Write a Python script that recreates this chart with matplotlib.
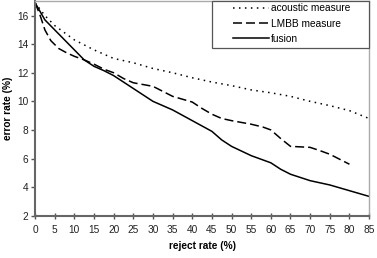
import matplotlib
matplotlib.use('Agg')
import matplotlib.pyplot as plt
from matplotlib.patches import Rectangle

# reject rate (%) and error rate (%)
acoustic_x = [0, 2.5, 5, 7.5, 10, 15, 20, 25, 30, 35, 40, 45, 50, 55, 60, 65, 70, 75, 80, 85]
acoustic_y = [16.9, 16.0, 15.3, 14.8, 14.3, 13.6, 13.0, 12.7, 12.3, 12.0, 11.65, 11.35, 11.1, 10.8, 10.6, 10.35, 10.0, 9.7, 9.35, 8.8]

lmbb_x = [0, 1.3, 2.5, 4, 6, 8, 10, 12.5, 15, 17.5, 20, 22.5, 25, 30, 35, 40, 42.5, 45, 47.5, 50, 55, 58, 60, 62.5, 65, 70, 72.5, 75, 80]
lmbb_y = [16.9, 16.0, 15.0, 14.25, 13.7, 13.4, 13.15, 12.9, 12.6, 12.25, 12.0, 11.6, 11.3, 11.05, 10.35, 9.95, 9.5, 9.1, 8.8, 8.65, 8.4, 8.2, 8.0, 7.4, 6.85, 6.78, 6.55, 6.3, 5.6]

fusion_x = [0, 2.5, 5, 7.5, 10, 12.5, 15, 17.5, 20, 22.5, 25, 30, 35, 40, 45, 47.5, 50, 55, 60, 62.5, 65, 70, 75, 80, 85]
fusion_y = [16.9, 15.7, 15.0, 14.3, 13.6, 12.9, 12.45, 12.15, 11.8, 11.35, 10.9, 10.0, 9.4, 8.65, 7.9, 7.3, 6.85, 6.2, 5.7, 5.25, 4.9, 4.45, 4.15, 3.75, 3.35]

x_ticks = list(range(0, 90, 5))
y_ticks = [2, 4, 6, 8, 10, 12, 14, 16]

plt.rcParams['font.family'] = ['Liberation Sans', 'DejaVu Sans']

fig = plt.figure(figsize=(3.77, 2.58), dpi=100)
ax = fig.add_axes([0.093, 0.164, 0.886, 0.831])

ax.plot(acoustic_x, acoustic_y, color='black', lw=1.1, linestyle=(0, (1.0, 2.9)), label='acoustic measure')
ax.plot(lmbb_x, lmbb_y, color='black', lw=1.1, linestyle=(0, (5.9, 2.6)), label='LMBB measure')
ax.plot(fusion_x, fusion_y, color='black', lw=1.1, label='fusion')

ax.set_xlim(0, 85)
ax.set_ylim(2, 17)
ax.set_xticks(x_ticks)
ax.set_yticks(y_ticks)
ax.tick_params(axis='x', direction='inout', length=4, width=1, color='#555555', labelsize=7.3, pad=5, labelcolor='#222222')
ax.tick_params(axis='y', direction='out', length=3, width=1, color='#555555', labelsize=7.3, pad=2, labelcolor='#222222')

for s in ['left', 'bottom']:
    ax.spines[s].set_color('#666666')
    ax.spines[s].set_linewidth(1.5)
for s in ['top', 'right']:
    ax.spines[s].set_color('#aaaaaa')
    ax.spines[s].set_linewidth(1.0)

ax.set_xlabel('reject rate (%)', fontsize=7.3, fontweight='bold', labelpad=4)
ax.set_ylabel('error rate (%)', fontsize=7.3, fontweight='bold', labelpad=3)

# legend box drawn separately so it can be wider than its contents
ax.add_patch(Rectangle((0.53, 0.782), 0.47, 0.218, transform=ax.transAxes,
                       facecolor='white', edgecolor='#555555', lw=0.9, zorder=4, clip_on=False))
leg = ax.legend(loc='upper left', bbox_to_anchor=(0.593, 0.99), fontsize=7.3, frameon=False,
                borderaxespad=0, borderpad=0, handlelength=3.5, handletextpad=0.2,
                labelspacing=0.5)
leg.set_zorder(5)

fig.savefig('out.png', dpi=100)
